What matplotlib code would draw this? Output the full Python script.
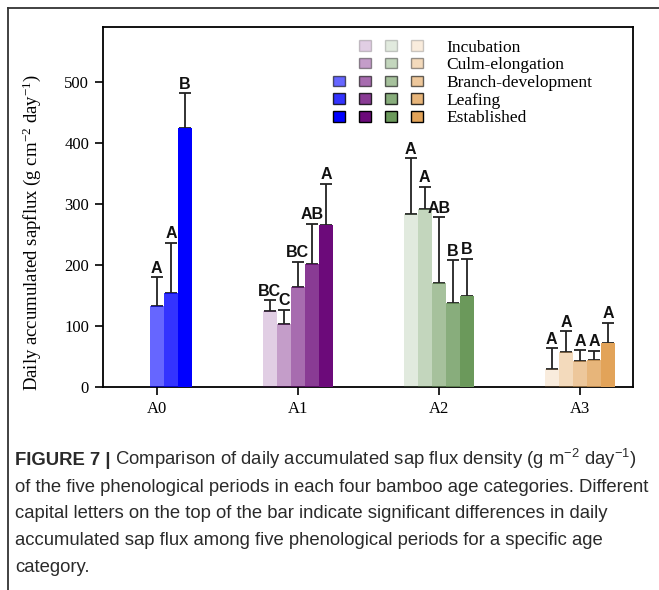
import matplotlib
matplotlib.use("Agg")
import matplotlib.pyplot as plt
import numpy as np
from matplotlib.patches import Patch
from matplotlib.lines import Line2D

# ---- data ----
ages = ["A0", "A1", "A2", "A3"]
periods = ["Incubation", "Culm-elongation", "Branch-development", "Leafing", "Established"]

incubation = [np.nan, 124, 283, 29]
culm = [np.nan, 103, 292, 57]
branch = [132, 164, 170, 42]
leafing = [154, 201, 137, 43]
established = [424, 265, 149, 72]

incubation_err = [np.nan, 18, 91, 34]
culm_err = [np.nan, 23, 36, 34]
branch_err = [47, 41, 108, 18]
leafing_err = [82, 66, 70, 16]
established_err = [57, 68, 61, 33]

letters = [
    ["", "BC", "A", "A"],
    ["", "C", "A", "A"],
    ["A", "BC", "AB", "A"],
    ["A", "AB", "B", "A"],
    ["B", "A", "B", "A"],
]

base_colors = ["#0000ff", "#6c0a7a", "#6b995b", "#e2a359"]
alphas = [0.2, 0.4, 0.6, 0.8, 1.0]

means = [incubation, culm, branch, leafing, established]
errs = [incubation_err, culm_err, branch_err, leafing_err, established_err]

# ---- figure ----
fig = plt.figure(figsize=(6.59, 5.90), dpi=100)
ax = fig.add_axes([103 / 659, 1 - 386.7 / 590, 530 / 659, 359.4 / 590])

x = np.arange(len(ages))
width = 0.1
for i in range(5):
    pos = x + (i - 2) * width
    for j in range(len(ages)):
        v = means[i][j]
        if np.isnan(v):
            continue
        ax.bar(pos[j], v, width, color=base_colors[j], alpha=alphas[i],
               linewidth=0, zorder=3)
        ax.errorbar(pos[j], v, yerr=[[0], [errs[i][j]]], fmt="none",
                    ecolor="#222222", elinewidth=1.3, capsize=4.5, capthick=1.3,
                    zorder=2)
        ax.annotate(letters[i][j], (pos[j], v + errs[i][j]),
                    xytext=(0, 1), textcoords="offset points",
                    ha="center", va="bottom", fontsize=11.5, fontweight="bold",
                    family="Liberation Sans", color="#111111")

ax.set_xlim(-0.381, 3.376)
ax.set_ylim(0, 589)
ax.set_xticks(x)
ax.set_xticklabels(ages, family="Liberation Serif", fontsize=12)
ax.set_yticks(range(0, 501, 100))
ax.set_yticklabels([str(v) for v in range(0, 501, 100)],
                   family="Liberation Serif", fontsize=12)
ax.tick_params(length=6, width=1.2, pad=4)
for s in ax.spines.values():
    s.set_linewidth(1.3)
ax.set_ylabel("Daily accumulated sapflux (g cm$\\mathregular{^{-2}}$ day$\\mathregular{^{-1}}$)",
              family="Liberation Serif", fontsize=13.5)
ax.yaxis.set_label_coords(-0.113, 0.43)

# legend: four colour columns, labels only on the last one
handles, labels = [], []
for j in range(4):
    for i in range(5):
        if j == 0 and i < 2:
            handles.append(Patch(facecolor="none", edgecolor="none"))
        else:
            handles.append(Patch(facecolor=base_colors[j], edgecolor="black",
                                 alpha=alphas[i], linewidth=1))
        labels.append(periods[i] if j == 3 else "")
ax.legend(handles, labels, ncol=4, loc="upper left",
          bbox_to_anchor=(0.434, 0.966), frameon=False,
          prop={"family": "Liberation Serif", "size": 12.5},
          handlelength=0.7, handleheight=0.55, handletextpad=1.35,
          columnspacing=-0.55, labelspacing=0.1, borderpad=0, borderaxespad=0)

# outer frame of the figure panel
fig.add_artist(Line2D([8 / 659, 8 / 659], [0, 1 - 8 / 590], transform=fig.transFigure,
                      color="#333333", linewidth=1.3))
fig.add_artist(Line2D([8 / 659, 1], [1 - 8 / 590, 1 - 8 / 590], transform=fig.transFigure,
                      color="#333333", linewidth=1.3))

# caption
cap_font = {"family": "Liberation Sans", "fontsize": 13.3, "color": "#2a2a2a"}
y0 = 465
t = fig.text(15 / 659, 1 - y0 / 590, "FIGURE 7 |", fontweight="bold",
             va="baseline", **cap_font)
renderer = fig.canvas.get_renderer()
bb = t.get_window_extent(renderer=renderer)
fig.text(bb.x1 / (6.59 * 100), 1 - y0 / 590,
         " Comparison of daily accumulated sap flux density (g m$\\mathregular{^{-2}}$ day$\\mathregular{^{-1}}$)",
         va="baseline", **cap_font)
caption_lines = [
    "of the five phenological periods in each four bamboo age categories. Different",
    "capital letters on the top of the bar indicate significant differences in daily",
    "accumulated sap flux among five phenological periods for a specific age",
    "category.",
]
for k, line in enumerate(caption_lines):
    fig.text(15 / 659, 1 - (y0 + 26.7 * (k + 1)) / 590, line, va="baseline", **cap_font)

fig.savefig("out.png", dpi=100)
